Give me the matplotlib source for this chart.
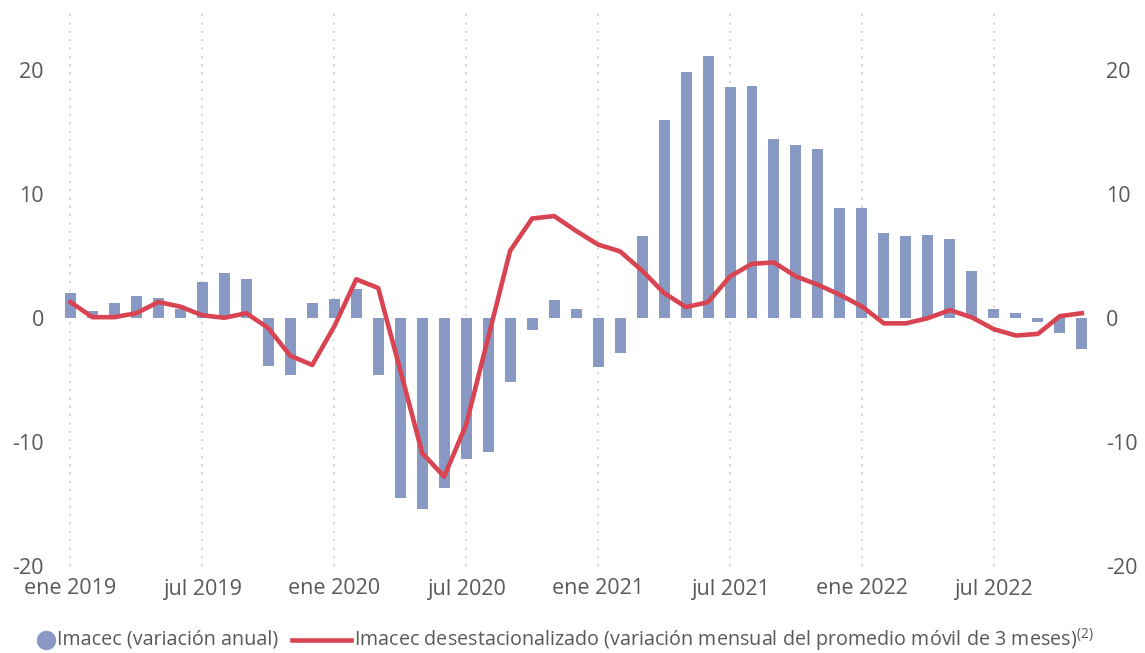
import matplotlib
matplotlib.use("Agg")
import matplotlib.pyplot as plt
from matplotlib.lines import Line2D
import numpy as np

plt.rcParams['font.family'] = ['Open Sans', 'DejaVu Sans']
plt.rcParams['mathtext.fontset'] = 'custom'
plt.rcParams['mathtext.rm'] = 'Open Sans'

months = ["ene", "feb", "mar", "abr", "may", "jun", "jul", "ago", "sep", "oct", "nov", "dic"]
periods = [f"{m} {y}" for y in range(2019, 2023) for m in months][:47]

imacec_anual = [2.0, 0.55, 1.2, 1.77, 1.58, 0.7, 2.9, 3.6, 3.15, -3.85, -4.65, 1.2,
                1.53, 2.3, -4.65, -14.55, -15.4, -13.7, -11.4, -10.8, -5.2, -1.0, 1.45, 0.72,
                -3.95, -2.8, 6.6, 15.9, 19.8, 21.1, 18.6, 18.7, 14.4, 13.95, 13.6, 8.87,
                8.87, 6.85, 6.6, 6.68, 6.35, 3.77, 0.7, 0.38, -0.3, -1.2, -2.5]

imacec_desest = [1.27, 0.05, 0.05, 0.37, 1.27, 0.9, 0.2, 0.0, 0.37, -0.83, -3.06, -3.8,
                 -0.7, 3.1, 2.4, -4.2, -10.9, -12.8, -8.6, -1.6, 5.4, 8.0, 8.2, 7.0,
                 5.9, 5.35, 3.8, 2.0, 0.86, 1.26, 3.33, 4.35, 4.46, 3.33, 2.66, 1.85,
                 0.91, -0.45, -0.45, -0.03, 0.62, 0.03, -0.92, -1.43, -1.3, 0.13, 0.37]

tick_labels = ["ene 2019", "jul 2019", "ene 2020", "jul 2020", "ene 2021", "jul 2021", "ene 2022", "jul 2022"]
y_ticks = [-20, -10, 0, 10, 20]

legend_labels = ["Imacec (variación anual)",
                 "Imacec desestacionalizado (variación mensual del promedio móvil de 3 meses)$^{(2)}$"]

bar_color = "#8899C4"
line_color = "#D94452"
text_color = "#595959"

W, H = 1145, 653
fig = plt.figure(figsize=(W / 100, H / 100), dpi=100)
ax = fig.add_axes([55 / W, 1 - 566 / H, 1040 / W, 556 / H])

x = np.arange(len(periods))
ax.bar(x, imacec_anual, width=0.5, color=bar_color, zorder=2)
ax.plot(x, imacec_desest, color=line_color, lw=3.3, zorder=3, solid_joinstyle='round')

tick_pos = [periods.index(t) for t in tick_labels]
for p in tick_pos:
    ax.axvline(p, color="#c8c8c8", lw=1.2, ls=(0, (1, 4)), zorder=1)

ax.set_xticks(tick_pos)
ax.set_xticklabels(tick_labels)
ax.set_xlim(-0.7, 46.6)
ax.set_ylim(-20, 24.8)
ax.set_yticks(y_ticks)
ax.set_yticklabels([str(v) for v in y_ticks])
ax.tick_params(axis='both', length=0, labelsize=15.5, colors=text_color)
ax.tick_params(axis='y', pad=8, labelright=True, labelleft=True)
ax.tick_params(axis='x', pad=9)
for lab in ax.get_yticklabels():
    lab.set_verticalalignment('center_baseline')
for s in ax.spines.values():
    s.set_visible(False)

# legend drawn manually in figure pixel coordinates
ly = 1 - 640 / H
fig.add_artist(Line2D([46 / W], [ly], marker='o', color=bar_color, ls='none',
                      markersize=13, transform=fig.transFigure))
fig.text(57 / W, ly, legend_labels[0], fontsize=14.2, color=text_color,
         ha='left', va='center')
fig.add_artist(Line2D([292 / W, 351 / W], [ly, ly], color=line_color, lw=3.3,
                      transform=fig.transFigure))
fig.text(354 / W, ly, legend_labels[1], fontsize=14.2, color=text_color,
         ha='left', va='center')

fig.savefig("out.png", dpi=100)
